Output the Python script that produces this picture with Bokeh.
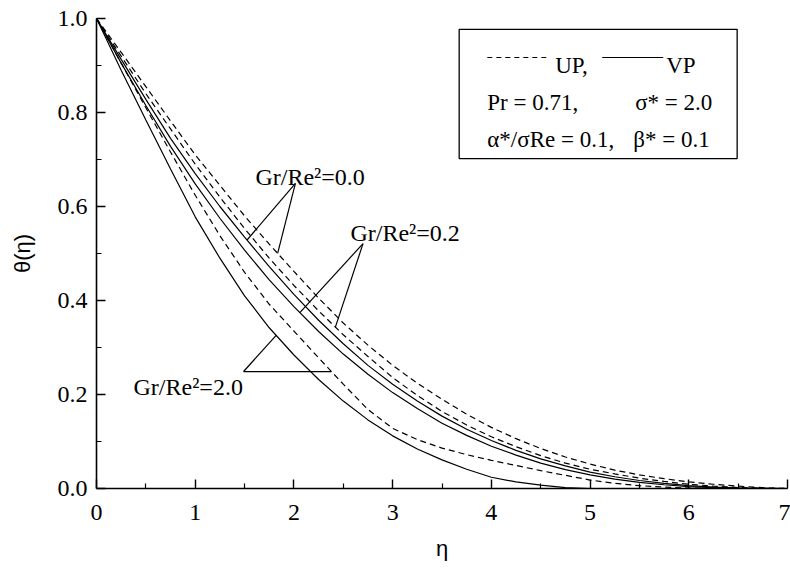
from bokeh.plotting import figure
from bokeh.models import FixedTicker, NumeralTickFormatter, Range1d
from bokeh.core.properties import value
from bokeh.embed import file_html
from bokeh.resources import INLINE
import numpy as np

# similarity coordinate
eta = [0.0, 0.25, 0.5, 0.75, 1.0, 1.25, 1.5, 1.75, 2.0, 2.25, 2.5, 2.75, 3.0, 3.25,
       3.5, 3.75, 4.0, 4.25, 4.5, 4.75, 5.0, 5.25, 5.5, 5.75, 6.0, 6.25, 6.5, 6.75, 7.0]

# temperature profiles, uniform properties (UP, dashed)
up_gr00 = [1.0, 0.928, 0.855, 0.782, 0.71, 0.645, 0.58, 0.52, 0.462, 0.405, 0.352, 0.305,
           0.262, 0.224, 0.19, 0.158, 0.13, 0.106, 0.085, 0.067, 0.052, 0.039, 0.029,
           0.021, 0.014, 0.009, 0.005, 0.002, 0.0]
up_gr02 = [1.0, 0.92, 0.84, 0.765, 0.69, 0.62, 0.553, 0.49, 0.432, 0.378, 0.327, 0.281,
           0.236, 0.198, 0.164, 0.135, 0.11, 0.089, 0.07, 0.054, 0.041, 0.031, 0.022,
           0.015, 0.009, 0.005, 0.002, 0.001, 0.0]
up_gr20 = [1.0, 0.905, 0.81, 0.716, 0.624, 0.538, 0.46, 0.392, 0.335, 0.278, 0.222, 0.168,
           0.128, 0.104, 0.086, 0.072, 0.06, 0.049, 0.038, 0.028, 0.018, 0.011, 0.006,
           0.003, 0.001, 0.0, 0.0, 0.0, 0.0]

# temperature profiles, variable properties (VP, solid)
vp_gr00 = [1.0, 0.913, 0.828, 0.745, 0.67, 0.6, 0.535, 0.472, 0.413, 0.358, 0.308, 0.262,
           0.222, 0.186, 0.154, 0.126, 0.102, 0.081, 0.063, 0.048, 0.035, 0.025, 0.017,
           0.011, 0.006, 0.003, 0.001, 0.0, 0.0]
vp_gr02 = [1.0, 0.905, 0.815, 0.728, 0.648, 0.575, 0.507, 0.444, 0.387, 0.334, 0.286, 0.243,
           0.204, 0.17, 0.139, 0.113, 0.09, 0.071, 0.054, 0.04, 0.029, 0.02, 0.013,
           0.008, 0.004, 0.002, 0.001, 0.0, 0.0]
vp_gr20 = [1.0, 0.89, 0.784, 0.68, 0.578, 0.49, 0.41, 0.342, 0.284, 0.232, 0.186, 0.146,
           0.112, 0.084, 0.061, 0.041, 0.024, 0.014, 0.007, 0.002, 0.0, 0.0, 0.0, 0.0,
           0.0, 0.0, 0.0, 0.0, 0.0]

x_ticks = [0, 1, 2, 3, 4, 5, 6, 7]
y_ticks = [0.0, 0.2, 0.4, 0.6, 0.8, 1.0]

SERIF = "Liberation Serif"
SANS = "Liberation Sans"
DASH = "6 4"

p = figure(frame_width=691, frame_height=470, output_backend="svg", toolbar_location=None,
           x_range=Range1d(0, 7), y_range=Range1d(0, 1),
           min_border_left=96, min_border_right=3, min_border_top=18, min_border_bottom=85)
p.outline_line_color = None
p.grid.visible = False
p.background_fill_color = "white"
p.border_fill_color = "white"

for ax in (p.xaxis[0], p.yaxis[0]):
    ax.axis_line_width = 1.6
    ax.axis_line_color = "black"
    ax.major_tick_in = 9
    ax.major_tick_out = 0
    ax.minor_tick_in = 5
    ax.minor_tick_out = 0
    ax.major_tick_line_width = 1.4
    ax.minor_tick_line_width = 1.2
    ax.major_tick_line_color = "black"
    ax.minor_tick_line_color = "black"
    ax.major_label_text_font = SERIF
    ax.major_label_text_font_size = "24px"
    ax.major_label_text_color = "black"
    ax.axis_label_text_font = SANS
    ax.axis_label_text_font_size = "22px"
    ax.axis_label_text_font_style = "normal"
    ax.axis_label_text_color = "black"

p.xaxis.ticker = FixedTicker(ticks=x_ticks, minor_ticks=[t + 0.5 for t in x_ticks[:-1]])
p.yaxis.ticker = FixedTicker(ticks=y_ticks, minor_ticks=[t + 0.1 for t in y_ticks[:-1]])
p.yaxis.formatter = NumeralTickFormatter(format="0.0")
p.xaxis.major_label_standoff = 16
p.yaxis.major_label_standoff = 9
p.xaxis.axis_label = "η"
p.yaxis.axis_label = "θ(η)"
p.xaxis.axis_label_standoff = 13
p.yaxis.axis_label_standoff = 20

# profiles
for ys in (up_gr00, up_gr02, up_gr20):
    p.line(eta, ys, line_color="black", line_width=1.2, line_dash=DASH)
for ys in (vp_gr00, vp_gr02, vp_gr20):
    p.line(eta, ys, line_color="black", line_width=1.2)

# leader lines from the Gr/Re^2 labels to their curves
def on_curve(e, ys):
    return float(np.interp(e, eta, ys))

leaders = [
    ((2.015, 0.649), [(1.525, vp_gr00), (1.835, up_gr00)]),
    ((2.70, 0.521), [(2.06, vp_gr02), (2.42, up_gr02)]),
]
x0s, y0s, x1s, y1s = [], [], [], []
for (ax_, ay_), ends in leaders:
    for e, ys in ends:
        x0s.append(ax_); y0s.append(ay_)
        x1s.append(e); y1s.append(on_curve(e, ys))
apex_y = on_curve(2.38, up_gr20)
x0s += [1.49, 1.49]; y0s += [apex_y, apex_y]
x1s += [1.82, 2.38]; y1s += [on_curve(1.82, vp_gr20), apex_y]
p.segment(x0s, y0s, x1s, y1s, line_color="black", line_width=1.2)

lbl_font = dict(text_font=value(SERIF), text_font_size="24px", text_color="black",
                text_baseline="alphabetic", text_align="left")
p.text([1.61], [0.662], text=["Gr/Re²=0.0"], **lbl_font)
p.text([2.572], [0.5426], text=["Gr/Re²=0.2"], **lbl_font)
p.text([0.375], [0.217], text=["Gr/Re²=2.0"], **lbl_font)

# parameter box
box_font = dict(lbl_font, text_font_size="23px")
p.quad(left=[3.674], right=[6.49], top=[0.977], bottom=[0.702],
       fill_color="white", line_color="black", line_width=1.3)
p.line([3.959, 4.587], [0.917, 0.917], line_color="black", line_width=1.2, line_dash="5 4")
p.line([5.123, 5.741], [0.917, 0.917], line_color="black", line_width=1.2)
p.text([4.647, 5.771], [0.9, 0.9], text=["UP,", "VP"], **box_font)
p.text([3.959, 5.457], [0.8213, 0.8213], text=["Pr = 0.71,", "σ* = 2.0"], **box_font)
p.text([3.959, 5.437], [0.7426, 0.7426], text=["α*/σRe = 0.1,", "β* = 0.1"], **box_font)

open("out.html", "w").write(file_html(p, INLINE))
